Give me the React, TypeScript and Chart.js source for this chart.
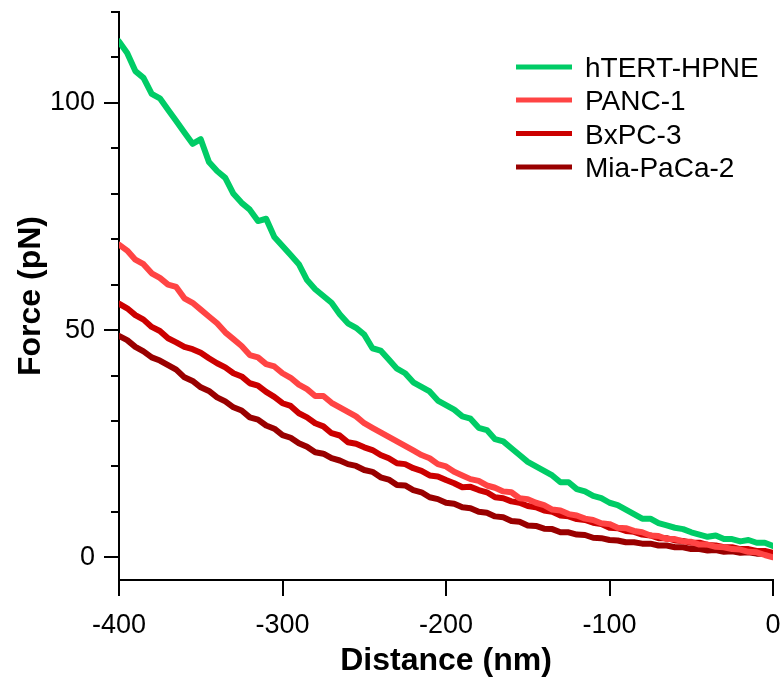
import React, { useEffect, useRef } from "react";
import { Chart, registerables } from "chart.js";

Chart.register(...registerables);

// Distance axis (nm), sampled every 5 nm from -400 to 0
const distances: number[] = Array.from({ length: 81 }, (_, i) => -400 + 5 * i);

const seriesNames = ["hTERT-HPNE", "PANC-1", "BxPC-3", "Mia-PaCa-2"];
const seriesColors = ["#00CC66", "#FF4444", "#CC0000", "#990000"];

const hTERT = [
  113.5, 111, 107, 105.5, 102, 101, 98.5, 96, 93.5, 91,
  92, 87, 85, 83.5, 80, 78, 76.5, 74, 74.5, 70.5,
  68.5, 66.5, 64.5, 61, 59, 57.5, 56, 53.5, 51.5, 50.5,
  49, 46, 45.5, 43.5, 41.5, 40.5, 38.5, 37.5, 36.5, 34.5,
  33.5, 32.5, 31, 30.5, 28.5, 28, 26, 25.5, 24, 22.5,
  21, 20, 19, 18, 16.5, 16.5, 15, 14.5, 13.5, 13,
  12, 11.5, 10.5, 9.5, 8.5, 8.5, 7.5, 7, 6.5, 6.2,
  5.5, 5, 4.5, 4.8, 4, 4, 3.5, 3.8, 3.2, 3.2,
  2.5,
];
const panc1 = [
  68.8, 67.5, 65.5, 64.5, 62.5, 61.5, 60, 59.5, 57, 56,
  54.5, 53, 51.5, 49.5, 48, 46.5, 44.5, 44, 42.5, 42,
  40.5, 39.5, 38, 37, 35.5, 35.5, 34, 33, 32, 31,
  29.5, 28.5, 27.5, 26.5, 25.5, 24.5, 23.5, 22.5, 21.8, 20.5,
  20, 18.8, 18, 17.2, 16.8, 15.8, 15.3, 14.5, 14.3, 13,
  12.8, 12, 11.5, 10.5, 10.3, 9.5, 9.2, 8.5, 8.2, 7.5,
  7.3, 6.5, 6.4, 5.8, 5.5, 4.8, 4.7, 4, 4, 3.5,
  3.4, 2.8, 2.8, 2.3, 2.2, 1.8, 1.7, 1.2, 1.1, 0.5,
  0,
];
const bxpc3 = [
  55.8, 54.8, 53.3, 52.3, 50.7, 49.8, 48.2, 47.3, 46.3, 45.8,
  45, 43.8, 42.7, 41.8, 40.5, 39.8, 38.3, 37.8, 36.4, 35.3,
  33.9, 33.3, 31.7, 30.8, 29.5, 28.8, 27.3, 26.8, 25.3, 25,
  24.2, 23.6, 22.5, 21.8, 20.7, 20.5, 19.6, 19, 18, 17.8,
  17, 16.3, 15.4, 15.5, 14.8, 14.3, 13.2, 13, 12.3, 12,
  11.3, 11, 10.3, 10, 9.2, 9, 8.4, 8.2, 7.6, 7.3,
  6.5, 6.4, 5.8, 5.6, 5, 4.8, 4.2, 4.2, 3.7, 3.6,
  3.2, 3.2, 2.7, 2.6, 2.2, 2.2, 1.8, 1.8, 1.4, 1.4,
  1,
];
const miaPaCa2 = [
  48.7, 47.8, 46.3, 45.3, 44, 43.3, 42.3, 41.3, 39.6, 38.8,
  37.4, 36.6, 35.2, 34.3, 33, 32.3, 30.8, 30.3, 29, 28.3,
  26.9, 26.3, 25.1, 24.3, 23.1, 22.8, 21.8, 21.3, 20.5, 20.1,
  19.2, 18.8, 17.6, 17.1, 15.9, 15.8, 14.8, 14.3, 13.2, 12.8,
  12, 11.8, 11, 10.8, 10, 9.8, 9, 8.8, 8, 7.8,
  7, 6.9, 6.3, 6.2, 5.5, 5.5, 5, 4.9, 4.3, 4.2,
  3.8, 3.7, 3.3, 3.3, 3, 3, 2.6, 2.6, 2.2, 2.2,
  1.8, 1.8, 1.5, 1.6, 1.2, 1.3, 1, 1.1, 0.8, 0.8,
  0.5,
];

const seriesValues = [hTERT, panc1, bxpc3, miaPaCa2];

const yMajorTicks = [0, 50, 100];
const yMinorTicks = [10, 20, 30, 40, 60, 70, 80, 90, 110, 120];
const xMajorTicks = [-400, -300, -200, -100, 0];

const FONT = "'Liberation Sans', Arial, sans-serif";

const tickMarksPlugin = {
  id: "tickMarks",
  afterDraw(chart: any) {
    const ctx = chart.ctx;
    const xs = chart.scales.x;
    const ys = chart.scales.y;
    const area = chart.chartArea;
    ctx.save();
    ctx.strokeStyle = "#000";
    ctx.lineWidth = 2;
    ctx.beginPath();
    yMajorTicks.forEach((v) => {
      const p = Math.round(ys.getPixelForValue(v));
      ctx.moveTo(area.left - 15, p);
      ctx.lineTo(area.left, p);
    });
    yMinorTicks.forEach((v) => {
      const p = Math.round(ys.getPixelForValue(v));
      ctx.moveTo(area.left - 8, p);
      ctx.lineTo(area.left, p);
    });
    xMajorTicks.forEach((v) => {
      const p = Math.round(xs.getPixelForValue(v));
      ctx.moveTo(p, area.bottom);
      ctx.lineTo(p, area.bottom + 16);
    });
    ctx.stroke();
    ctx.restore();
  },
};

const legendPlugin = {
  id: "customLegend",
  afterDraw(chart: any) {
    const ctx = chart.ctx;
    ctx.save();
    const rows = [67, 100, 133.5, 167];
    chart.data.datasets.forEach((ds: any, i: number) => {
      const y = rows[i];
      ctx.fillStyle = ds.borderColor;
      ctx.fillRect(516, y - 2.5, 56, 5);
      ctx.fillStyle = "#000";
      ctx.font = `28px ${FONT}`;
      ctx.textAlign = "left";
      ctx.textBaseline = "alphabetic";
      ctx.fillText(ds.label, 585, y + 10);
    });
    ctx.restore();
  },
};

export default function App() {
  const canvasRef = useRef<HTMLCanvasElement | null>(null);

  useEffect(() => {
    if (!canvasRef.current) return;
    const datasets = seriesNames.map((name, i) => ({
      label: name,
      data: distances.map((d, j) => ({ x: d, y: seriesValues[i][j] })),
      borderColor: seriesColors[i],
      backgroundColor: seriesColors[i],
      borderWidth: 6,
      pointRadius: 0,
      tension: 0,
      fill: false,
      borderJoinStyle: "round" as const,
      borderCapStyle: "round" as const,
    }));

    const chart = new Chart(canvasRef.current, {
      type: "line",
      data: { datasets },
      plugins: [tickMarksPlugin, legendPlugin],
      options: {
        animation: false,
        responsive: true,
        maintainAspectRatio: false,
        layout: { padding: { top: 12, right: 8, left: 0, bottom: 0 } },
        plugins: {
          legend: { display: false },
          tooltip: { enabled: false },
        },
        scales: {
          x: {
            type: "linear",
            min: -400,
            max: 0,
            afterBuildTicks(scale: any) {
              scale.ticks = xMajorTicks.map((v) => ({ value: v }));
            },
            afterFit(scale: any) {
              scale.height = 101;
              scale.paddingLeft = 0;
              scale.paddingRight = 0;
            },
            ticks: {
              padding: 14,
              color: "#000",
              font: { family: FONT, size: 27 },
              maxRotation: 0,
              autoSkip: false,
            },
            grid: {
              display: true,
              drawOnChartArea: false,
              drawTicks: true,
              tickLength: 15,
              color: "rgba(0,0,0,0)",
            },
            border: { display: true, color: "#000", width: 2 },
            title: {
              display: true,
              text: "Distance (nm)",
              color: "#000",
              font: { family: FONT, size: 32, weight: "bold" },
              padding: { top: 0, bottom: 1 },
            },
          },
          y: {
            type: "linear",
            min: -5,
            max: 120,
            afterBuildTicks(scale: any) {
              scale.ticks = yMajorTicks.map((v) => ({ value: v }));
            },
            afterFit(scale: any) {
              scale.width = 119;
              scale.paddingTop = 0;
              scale.paddingBottom = 0;
            },
            ticks: {
              padding: 9,
              color: "#000",
              font: { family: FONT, size: 27 },
              autoSkip: false,
            },
            grid: {
              display: true,
              drawOnChartArea: false,
              drawTicks: true,
              tickLength: 15,
              color: "rgba(0,0,0,0)",
            },
            border: { display: true, color: "#000", width: 2 },
            title: {
              display: true,
              text: "Force (pN)",
              color: "#000",
              font: { family: FONT, size: 32, weight: "bold" },
              padding: { top: 12, bottom: 0 },
            },
          },
        },
      },
    });
    return () => chart.destroy();
  }, []);

  return (
    <div
      style={{
        position: "fixed",
        left: 0,
        top: 0,
        width: "781px",
        height: "681px",
        background: "#fff",
      }}
    >
      <canvas ref={canvasRef} />
    </div>
  );
}
